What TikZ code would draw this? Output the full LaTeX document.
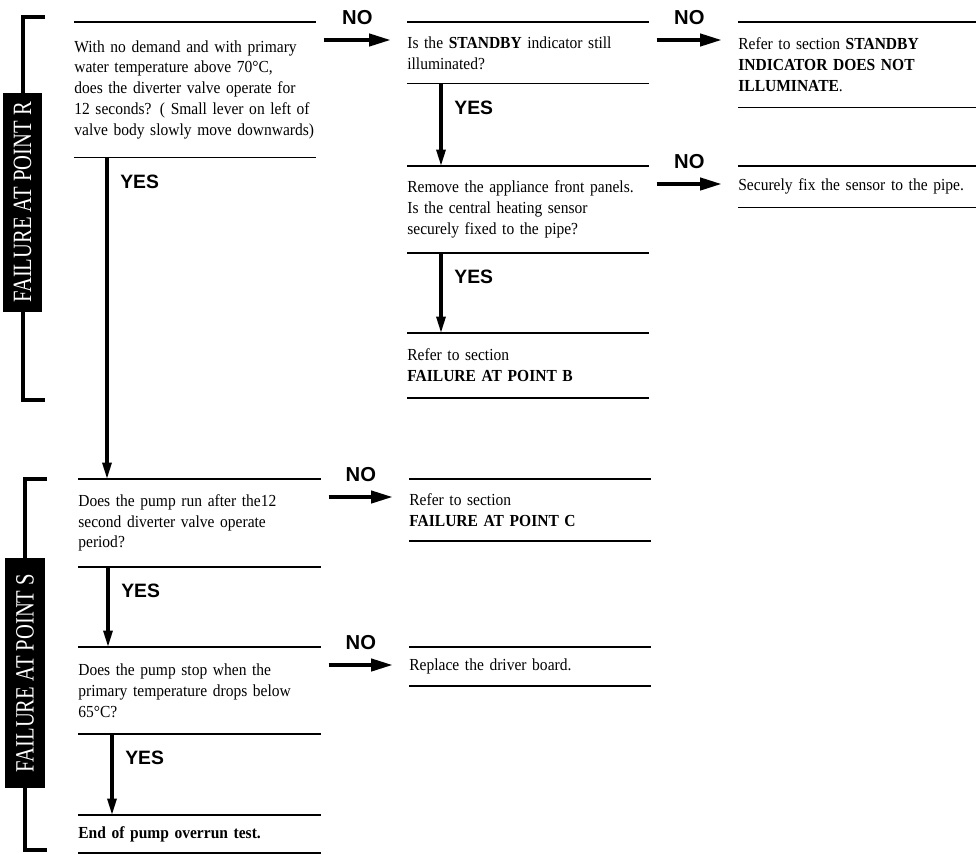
\documentclass[tikz,border=0pt]{standalone}
\usepackage{fontspec}
\setmainfont{Liberation Serif}[FakeStretch=0.92]
\newfontfamily\yesnofont{Liberation Sans}
\usetikzlibrary{arrows.meta}

\begin{document}
\begin{tikzpicture}[x=0.2mm, y=-0.2mm,
    rule/.style={line width=0.9pt},
    box/.style={anchor=north west, inner sep=0pt, align=left,
      font=\fontsize{9.6}{11.9}\selectfont},
    noarr/.style={line width=2.4pt, -{Triangle[length=4.4mm,width=2.4mm]}},
    yesarr/.style={line width=1.8pt, -{Triangle[length=3.3mm,width=1.8mm]}},
    nolbl/.style={above=2.7mm, inner sep=0pt,
      font=\yesnofont\bfseries\fontsize{11.5}{13}\selectfont},
    yeslbl/.style={anchor=west, inner sep=0pt,
      font=\yesnofont\bfseries\fontsize{11}{13}\selectfont},
    brace/.style={line width=1.9pt},
    sidetag/.style={fill=black, text=white, rotate=90, inner sep=0pt,
      font=\fontsize{15}{18}\selectfont}]
  \useasboundingbox (0,0) rectangle (976,854);

  % side brackets with their tags
  \draw[brace] (45,17) -| (23,400) -- (45,400);
  \node[sidetag, minimum width=43.8mm, minimum height=7.8mm] (tagR) at (22.5,202.5)
    {\scalebox{0.85}[1]{FAILURE AT POINT R}};
  \draw[brace] (47,479) -| (25,850) -- (47,850);
  \node[sidetag, minimum width=46mm, minimum height=8mm] (tagS) at (25,673)
    {\scalebox{0.85}[1]{FAILURE AT POINT S}};

  % point R: questions and answers
  \node[box, text width=48.2mm, minimum height=27mm] (q1) at (74,22)
    {With no demand and with primary\\ water temperature above 70°C,\\
     does the diverter valve operate for\\ 12 seconds? ( Small lever on left of\\
     valve body slowly move downwards)};
  \node[box, text width=48.2mm, minimum height=12.2mm] (q2) at (407,22)
    {Is the \textbf{STANDBY} indicator still\\ illuminated?};
  \node[box, text width=48.2mm, minimum height=17.2mm] (q3) at (407,166)
    {Remove the appliance front panels.\\ Is the central heating sensor\\
     securely fixed to the pipe?};
  \node[box, text width=48.2mm, minimum height=12.8mm] (rB) at (407,333)
    {Refer to section\\ \textbf{FAILURE AT POINT B}};
  \node[box, text width=47.6mm, minimum height=17mm] (rStby) at (738,22)
    {Refer to section \textbf{STANDBY}\\ \textbf{INDICATOR DOES NOT}\\
     \textbf{ILLUMINATE}.};
  \node[box, text width=47.6mm, minimum height=8.2mm] (rFix) at (738,166)
    {Securely fix the sensor to the pipe.};

  % point S: questions and answers
  \node[box, text width=48.4mm, minimum height=17.4mm] (s1) at (78,479)
    {Does the pump run after the12\\ second diverter valve operate\\ period?};
  \node[box, text width=48.4mm, minimum height=17.2mm] (s2) at (78,647)
    {Does the pump stop when the\\ primary temperature drops below\\ 65°C?};
  \node[box, text width=48.4mm, minimum height=7.4mm] (s3) at (78,815)
    {\textbf{End of pump overrun test.}};
  \node[box, text width=48.2mm, minimum height=12.2mm] (rC) at (409,479)
    {Refer to section\\ \textbf{FAILURE AT POINT C}};
  \node[box, text width=48.2mm, minimum height=7.6mm] (rD) at (409,647)
    {Replace the driver board.};

  % rules above and below every box
  \foreach \n in {q1,q2,q3,rB,rStby,rFix,s1,s2,s3,rC,rD}
    \draw[rule] (\n.north west) -- (\n.north east) (\n.south west) -- (\n.south east);

  % NO arrows
  \foreach \a/\b in {q1/q2, q2/rStby, q3/rFix, s1/rC, s2/rD}
    \draw[noarr] ([shift={(8,18)}]\a.north east) -- node[nolbl] (no-\a) {NO}
      ([shift={(-16,18)}]\b.north west);

  % YES arrows
  \foreach \a/\b/\dx in {q1/s1/33, q2/q3/34, q3/rB/34, s1/s2/30, s2/s3/34} {
    \coordinate (ya-\a) at ([shift={(\dx,0)}]\a.south west);
    \draw[yesarr] (ya-\a) -- (ya-\a |- \b.north);
    \node[yeslbl] (yes-\a) at ([shift={(13,24)}]ya-\a) {YES};
  }
\end{tikzpicture}
\end{document}
